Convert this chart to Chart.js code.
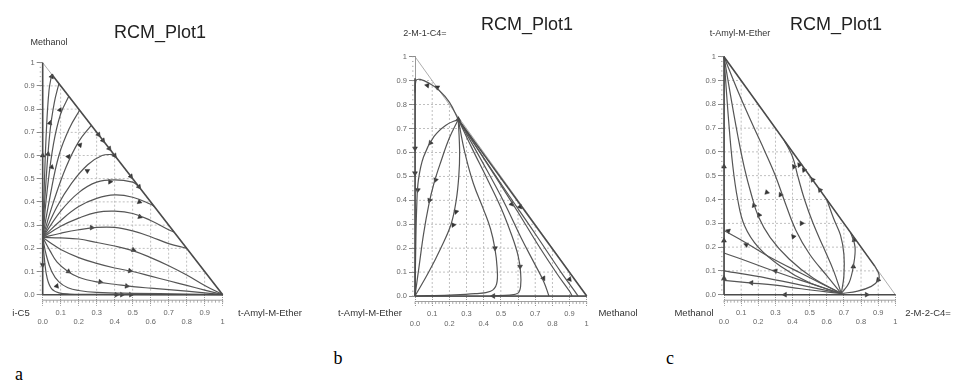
<!DOCTYPE html>
<html><head><meta charset="utf-8">
<script src="https://cdn.jsdelivr.net/npm/chart.js@4.4.1/dist/chart.umd.min.js"></script>
<style>
body{margin:0;width:960px;height:383px;background:#fff;position:relative;overflow:hidden;font-family:"Liberation Sans",Arial,sans-serif}
canvas{position:absolute;top:0}
.t{position:absolute;white-space:nowrap;color:#333;transform:translate(-50%,-50%);line-height:1}
.ttl{font-size:18px;color:#222}
.ax{font-size:9px}
.cp{font-size:9.5px}
.lt{font-family:"Liberation Serif","Times New Roman",serif;font-size:18px;color:#000}
</style></head><body>
<canvas id="ca" width="320" height="340" style="left:0"></canvas>
<canvas id="cb" width="320" height="340" style="left:320px"></canvas>
<canvas id="cc" width="320" height="340" style="left:640px"></canvas>

<div class="t ttl" style="left:160px;top:32px">RCM_Plot1</div>
<div class="t ax" style="left:49px;top:42px">Methanol</div>
<div class="t cp" style="left:21px;top:313px">i-C5</div>
<div class="t cp" style="left:270px;top:313px">t-Amyl-M-Ether</div>

<div class="t ttl" style="left:527px;top:24px">RCM_Plot1</div>
<div class="t ax" style="left:425px;top:33px">2-M-1-C4=</div>
<div class="t cp" style="left:370px;top:313px">t-Amyl-M-Ether</div>
<div class="t cp" style="left:618px;top:313px">Methanol</div>

<div class="t ttl" style="left:836px;top:24px">RCM_Plot1</div>
<div class="t ax" style="left:740px;top:33px">t-Amyl-M-Ether</div>
<div class="t cp" style="left:694px;top:313px">Methanol</div>
<div class="t cp" style="left:928px;top:313px">2-M-2-C4=</div>

<div class="t lt" style="left:19px;top:374px">a</div>
<div class="t lt" style="left:338px;top:358px">b</div>
<div class="t lt" style="left:670px;top:358px">c</div>

<script>
// ---- axis ticks ----
const tickValues = [0,0.1,0.2,0.3,0.4,0.5,0.6,0.7,0.8,0.9,1];
const tickLabels = ['0.0','0.1','0.2','0.3','0.4','0.5','0.6','0.7','0.8','0.9','1'];
const gridValues = [0.1,0.2,0.3,0.4,0.5,0.6,0.7,0.8,0.9];

// ---- panel a : i-C5 (origin) / t-Amyl-M-Ether (x) / Methanol (y) ----
const aEdges = [
  [[0,0],[1,0]],
  [[0,0],[0,1]],
  [[0.05,0.95],[1,0]]
];
const aCurves = [
  [[0,0.247],[0.008,0.45],[0.02,0.7],[0.035,0.88],[0.05,0.95]],
  [[0,0.247],[0.015,0.45],[0.04,0.7],[0.065,0.83],[0.09,0.91]],
  [[0,0.247],[0.025,0.45],[0.06,0.65],[0.1,0.78],[0.145,0.855]],
  [[0,0.247],[0.04,0.42],[0.09,0.6],[0.15,0.72],[0.205,0.795]],
  [[0,0.247],[0.06,0.4],[0.13,0.55],[0.2,0.66],[0.27,0.73]],
  [[0,0.247],[0.08,0.38],[0.16,0.48],[0.25,0.56],[0.33,0.6],[0.39,0.605]],
  [[0,0.247],[0.1,0.36],[0.2,0.44],[0.3,0.485],[0.4,0.495],[0.5,0.485],[0.53,0.47]],
  [[0,0.247],[0.1,0.32],[0.2,0.38],[0.3,0.415],[0.4,0.43],[0.5,0.42],[0.6,0.39],[0.62,0.38]],
  [[0,0.247],[0.1,0.295],[0.2,0.33],[0.3,0.355],[0.4,0.36],[0.5,0.35],[0.6,0.32],[0.7,0.28],[0.73,0.27]],
  [[0,0.247],[0.1,0.265],[0.2,0.28],[0.3,0.29],[0.4,0.29],[0.5,0.275],[0.6,0.25],[0.7,0.22],[0.8,0.2]],
  [[0,0.247],[0.1,0.245],[0.2,0.24],[0.3,0.225],[0.4,0.21],[0.5,0.19],[0.6,0.16],[0.7,0.125],[0.8,0.085],[0.9,0.04],[1,0]],
  [[0,0.247],[0.05,0.22],[0.1,0.195],[0.2,0.16],[0.3,0.135],[0.4,0.115],[0.5,0.1],[0.6,0.08],[0.7,0.06],[0.8,0.04],[0.9,0.02],[1,0]],
  [[0,0.247],[0.04,0.19],[0.08,0.14],[0.14,0.1],[0.2,0.075],[0.3,0.055],[0.4,0.045],[0.5,0.035],[0.6,0.028],[0.8,0.015],[1,0]],
  [[0,0.247],[0.02,0.17],[0.05,0.1],[0.09,0.055],[0.14,0.03],[0.2,0.018],[0.3,0.01],[0.5,0.006],[0.8,0.003],[1,0]],
  [[0,0.247],[0.01,0.15],[0.025,0.07],[0.05,0.025],[0.09,0.008],[0.15,0.003],[0.3,0.001],[1,0]]
];
const aArrows = [
  [0.31,0.69,142],[0.335,0.665,142],[0.37,0.63,142],[0.4,0.6,142],[0.49,0.51,142],[0.535,0.465,142],
  [0.05,0.94,25],[0.096,0.796,25],[0.04,0.74,15],[0.143,0.595,35],[0.207,0.645,40],[0.05,0.55,15],[0.03,0.606,10],[0,0.6,0],
  [0.248,0.534,60],[0.374,0.487,90],[0.537,0.4,110],[0.54,0.336,110],[0.272,0.289,90],[0.504,0.193,110],
  [0.485,0.103,100],[0.467,0.037,100],[0.32,0.055,100],[0.143,0.1,125],[0.078,0.037,140],
  [0,0.128,180],[0.41,0,90],[0.44,0,90],[0.49,0,90]
];

// ---- panel b : t-Amyl-M-Ether (origin) / Methanol (x) / 2-M-1-C4= (y) ----
const bEdges = [
  [[0,0],[1,0]],
  [[0,0],[0,0.91]],
  [[0.252,0.738],[1,0]]
];
const bCurves = [
  [[0.252,0.738],[0.2,0.81],[0.14,0.86],[0.08,0.89],[0.03,0.905],[0.005,0.9],[0,0.85]],
  [[0.252,0.738],[0.18,0.714],[0.11,0.666],[0.05,0.582],[0.02,0.485],[0.01,0.373],[0.004,0.19],[0,0]],
  [[0.252,0.738],[0.2,0.66],[0.15,0.56],[0.11,0.47],[0.08,0.38],[0.05,0.26],[0.025,0.13],[0,0]],
  [[0.252,0.738],[0.26,0.6],[0.255,0.5],[0.24,0.4],[0.21,0.3],[0.15,0.2],[0.08,0.1],[0,0]],
  [[0.252,0.738],[0.29,0.6],[0.34,0.47],[0.4,0.36],[0.44,0.28],[0.465,0.2],[0.478,0.12],[0.475,0.05],[0.44,0.02],[0.35,0.01],[0.2,0.004],[0,0]],
  [[0.252,0.738],[0.33,0.62],[0.42,0.49],[0.5,0.37],[0.56,0.26],[0.6,0.17],[0.615,0.1],[0.615,0.04],[0.6,0.012],[0.55,0.004],[0.45,0.001]],
  [[0.252,0.738],[0.4,0.55],[0.52,0.39],[0.62,0.24],[0.7,0.13],[0.75,0.06],[0.78,0]],
  [[0.252,0.738],[0.45,0.52],[0.6,0.35],[0.72,0.21],[0.83,0.09],[0.9,0.02],[0.915,0]],
  [[0.252,0.738],[0.5,0.47],[0.7,0.26],[0.85,0.1],[0.93,0.02],[0.95,0]]
];
const bArrows = [
  [0.072,0.88,-80],[0.13,0.872,-60],[0.252,0.738,0],
  [0,0.617,180],[0,0.513,180],[0.016,0.443,185],[0.09,0.64,220],[0.12,0.485,200],[0.085,0.4,200],
  [0.239,0.352,195],[0.223,0.297,205],[0.466,0.2,180],[0.612,0.123,180],[0.748,0.074,150],
  [0.563,0.384,140],[0.612,0.373,140],[0.9,0.07,140],[0.456,0,270]
];

// ---- panel c : Methanol (origin) / 2-M-2-C4= (x) / t-Amyl-M-Ether (y) ----
const cEdges = [
  [[0,0],[1,0]],
  [[0,0],[0,1]],
  [[0,1],[0.88,0.12]]
];
const cCurves = [
  [[0.685,0.005],[0.78,0.015],[0.86,0.035],[0.9,0.06],[0.905,0.085],[0.88,0.12]],
  [[0.685,0.005],[0.73,0.05],[0.755,0.12],[0.765,0.2],[0.74,0.26]],
  [[0.685,0.005],[0.7,0.08],[0.7,0.17],[0.68,0.25],[0.64,0.32],[0.6,0.4]],
  [[0.685,0.005],[0.64,0.1],[0.58,0.2],[0.52,0.3],[0.47,0.4],[0.43,0.5],[0.4,0.58],[0.35,0.65]],
  [[0.685,0.005],[0.6,0.08],[0.5,0.17],[0.42,0.27],[0.36,0.38],[0.3,0.5],[0.24,0.6],[0.17,0.71],[0.09,0.84],[0,1]],
  [[0.685,0.005],[0.52,0.07],[0.38,0.15],[0.27,0.24],[0.2,0.33],[0.16,0.42],[0.12,0.53],[0.08,0.67],[0.04,0.83],[0,1]],
  [[0.685,0.005],[0.5,0.05],[0.33,0.12],[0.2,0.2],[0.12,0.29],[0.08,0.4],[0.05,0.55],[0.025,0.75],[0,1]],
  [[0.685,0.005],[0.45,0.09],[0.25,0.165],[0.1,0.23],[0,0.27]],
  [[0.685,0.005],[0.45,0.06],[0.25,0.11],[0.1,0.15],[0,0.175]],
  [[0.685,0.005],[0.45,0.04],[0.25,0.07],[0,0.1]],
  [[0.685,0.005],[0.45,0.025],[0.3,0.04],[0.15,0.05],[0,0.06]]
];
const cArrows = [
  [0.409,0.538,-36],[0.44,0.545,-36],[0.467,0.524,-36],[0.517,0.483,-36],[0.56,0.44,-36],
  [0.33,0.42,-25],[0.25,0.43,-15],[0.205,0.335,-25],[0.175,0.375,-20],[0.453,0.3,-30],[0.405,0.244,-40],
  [0,0.538,0],[0,0.227,0],[0,0.069,0],[0.025,0.268,-70],[0.13,0.21,-70],[0.3,0.1,-75],[0.16,0.05,-85],
  [0.755,0.118,0],[0.76,0.23,-10],[0.9,0.062,-20],[0.356,0,270],[0.833,0,90]
];

// ---- drawing ----
function toPts(arr){ return arr.map(p => ({x:p[0], y:p[1]})); }

const framePlugin = {
  id:'frame',
  beforeDatasetsDraw(chart){
    const {ctx, scales:{x, y}} = chart;
    ctx.save();
    ctx.strokeStyle = '#b0b0b0'; ctx.lineWidth = 0.8; ctx.setLineDash([2,2]);
    gridValues.forEach(v => {
      ctx.beginPath();
      ctx.moveTo(x.getPixelForValue(v), y.getPixelForValue(0));
      ctx.lineTo(x.getPixelForValue(v), y.getPixelForValue(1 - v));
      ctx.stroke();
      ctx.beginPath();
      ctx.moveTo(x.getPixelForValue(0), y.getPixelForValue(v));
      ctx.lineTo(x.getPixelForValue(1 - v), y.getPixelForValue(v));
      ctx.stroke();
    });
    ctx.setLineDash([]); ctx.strokeStyle = '#999'; ctx.lineWidth = 0.8;
    ctx.beginPath();
    ctx.moveTo(x.getPixelForValue(0), y.getPixelForValue(1));
    ctx.lineTo(x.getPixelForValue(1), y.getPixelForValue(0));
    ctx.stroke();
    ctx.restore();
  },
  afterDraw(chart){
    const {ctx, scales:{x, y}} = chart;
    const y0 = y.getPixelForValue(0), x0 = x.getPixelForValue(0);
    ctx.save();
    ctx.strokeStyle = '#888'; ctx.lineWidth = 0.8;
    ctx.beginPath();
    ctx.moveTo(x.getPixelForValue(0), y0 + 5.5);
    ctx.lineTo(x.getPixelForValue(1), y0 + 5.5);
    ctx.stroke();
    ctx.strokeStyle = '#999';
    for (let i = 0; i <= 50; i++) {
      const px = x.getPixelForValue(i / 50);
      ctx.beginPath(); ctx.moveTo(px, y0 + 5.5); ctx.lineTo(px, y0 + 8); ctx.stroke();
      const py = y.getPixelForValue(i / 50);
      ctx.beginPath(); ctx.moveTo(x0 - 3, py); ctx.lineTo(x0 - 1.5, py); ctx.stroke();
    }
    ctx.restore();
  }
};

function makePanel(id, pad, edges, curves, arrows){
  const ds = [];
  edges.forEach(c => ds.push({type:'line', data:toPts(c), borderColor:'#4a4a4a', borderWidth:1.6,
    pointRadius:0, tension:0, fill:false, clip:6}));
  curves.forEach(c => ds.push({type:'line', data:toPts(c), borderColor:'#555', borderWidth:1.2,
    pointRadius:0, tension:0.4, fill:false, clip:6}));
  ds.push({type:'scatter', data:toPts(arrows), pointStyle:'triangle', pointRadius:2.8,
    rotation: arrows.map(a => a[2]), backgroundColor:'#333', borderColor:'#333', borderWidth:0.5, clip:8});
  new Chart(document.getElementById(id), {
    type:'scatter',
    data:{datasets:ds},
    options:{
      responsive:false, animation:false, devicePixelRatio:1,
      layout:{padding:{left:0, top:pad.top, right:pad.right, bottom:pad.bottom}},
      plugins:{legend:{display:false}, tooltip:{enabled:false}, title:{display:false}},
      scales:{
        x:{type:'linear', min:0, max:1, afterFit:s => { s.height = 30; },
          afterBuildTicks:s => { s.ticks = tickValues.map(v => ({value:v})); },
          ticks:{autoSkip:false, maxRotation:0, padding:2, color:'#666',
            font:{family:'Liberation Sans', size:7.5, lineHeight:1.3},
            callback:(v, i) => i % 2 ? [tickLabels[i], ''] : ['', tickLabels[i]]},
          grid:{drawOnChartArea:false, drawTicks:true, tickLength:11, tickColor:'#999', tickBorderDash:[1,1]},
          border:{display:true, color:'#888', width:1}},
        y:{type:'linear', min:0, max:1, afterFit:s => { s.width = pad.left; },
          afterBuildTicks:s => { s.ticks = tickValues.map(v => ({value:v})); },
          ticks:{autoSkip:false, padding:2, color:'#666',
            font:{family:'Liberation Sans', size:7.5}, callback:(v, i) => tickLabels[i]},
          grid:{drawOnChartArea:false, drawTicks:true, tickLength:6, tickColor:'#888'},
          border:{display:true, color:'#999', dash:[1,1]}}
      }
    },
    plugins:[framePlugin]
  });
}

makePanel('ca', {left:42.7, top:62.7, right:97.3, bottom:15.3}, aEdges, aCurves, aArrows);
makePanel('cb', {left:95, top:56.7, right:53.3, bottom:14}, bEdges, bCurves, bArrows);
makePanel('cc', {left:84, top:56.7, right:64.7, bottom:15.3}, cEdges, cCurves, cArrows);
</script>
</body></html>
